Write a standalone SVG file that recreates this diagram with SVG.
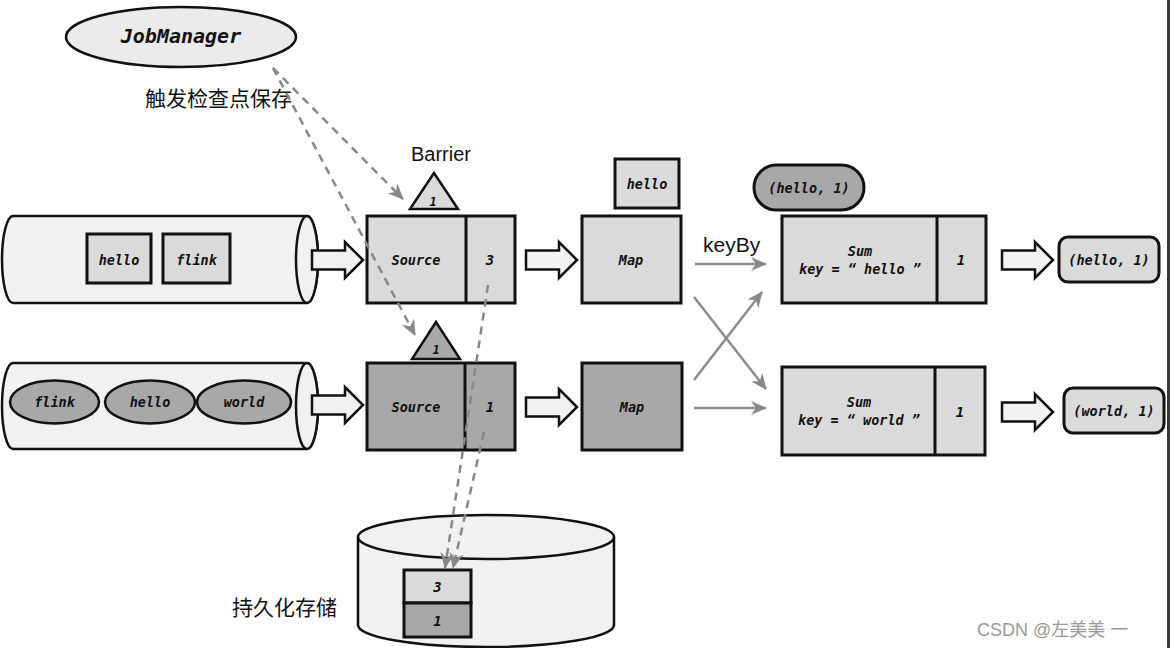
<svg xmlns="http://www.w3.org/2000/svg" width="1170" height="648" viewBox="0 0 1170 648">
<style>
  .mono{font-family:"DejaVu Sans Mono","Liberation Mono",monospace;font-weight:bold;font-style:italic;fill:#111;text-anchor:middle}
  .m13{font-size:13.5px}
  .m12{font-size:12px}
  .sans{font-family:"Liberation Sans",Arial,sans-serif;fill:#111}
  .cjk{font-family:"Liberation Sans","Noto Sans CJK SC",sans-serif;fill:#111}
  .box{stroke:#111;stroke-width:3}
  .light{fill:#dadada}
  .dark{fill:#a8a8a8}
  .pale{fill:#f1f1f1}
  .thin{stroke:#111;stroke-width:2.5}
  .dash{fill:none;stroke:#888;stroke-width:2.5;stroke-dasharray:8 6}
  .solid{fill:none;stroke:#8c8c8c;stroke-width:2.5}
</style>
<defs>
  <marker id="ah" viewBox="0 0 16 14" refX="15" refY="7" markerWidth="16" markerHeight="14" markerUnits="userSpaceOnUse" orient="auto">
    <path d="M0,0 L16,7 L0,14 L5,7 Z" fill="#888"/>
  </marker>
  <path id="blk" d="M-51,-9.5 H-18 V-18 L0,0 L-18,18 V9.5 H-51 Z" fill="#f1f1f1" stroke="#111" stroke-width="2.5" stroke-linejoin="miter"/>
</defs>

<rect x="0" y="0" width="1170" height="648" fill="#ffffff"/>
<rect x="1167" y="0" width="3" height="648" fill="#3a3a3a"/>

<g id="jobmanager">
  <ellipse cx="181" cy="37" rx="115" ry="30" fill="#ebebeb" class="thin"/>
  <text x="181" y="43" class="mono" font-size="20">JobManager</text>
</g>
<text x="145" y="106" class="cjk" font-size="21">触发检查点保存</text>

<g id="kafka-top">
  <path d="M13,216 H307 A11,43.5 0 0 1 307,303 H13 A11,43.5 0 0 1 13,216 Z" class="pale thin"/>
  <ellipse cx="307" cy="259.5" rx="11" ry="43.5" class="pale thin"/>
  <rect x="87" y="234" width="64" height="49" class="light box"/>
  <text x="119" y="265" class="mono m13">hello</text>
  <rect x="163" y="234" width="67" height="49" class="light box"/>
  <text x="196.5" y="265" class="mono m13">flink</text>
</g>

<g id="kafka-bottom">
  <path d="M13,363 H307 A11,43 0 0 1 307,449 H13 A11,43 0 0 1 13,363 Z" class="pale thin"/>
  <ellipse cx="307" cy="406" rx="11" ry="43" class="pale thin"/>
  <ellipse cx="54.5" cy="402" rx="44.5" ry="21.5" class="dark thin"/>
  <text x="54.5" y="407" class="mono m13">flink</text>
  <ellipse cx="150" cy="402" rx="45" ry="21.5" class="dark thin"/>
  <text x="150" y="407" class="mono m13">hello</text>
  <ellipse cx="244" cy="402" rx="47" ry="21.5" class="dark thin"/>
  <text x="244" y="407" class="mono m13">world</text>
</g>

<g id="barrier">
  <text x="411" y="161" class="sans" font-size="20">Barrier</text>
  <polygon points="434,173 410,209 458,209" class="light thin"/>
  <text x="433" y="206" class="mono m12">1</text>
</g>

<g id="source-top">
  <rect x="367" y="216" width="148" height="87" class="light box"/>
  <line x1="466" y1="216" x2="466" y2="303" class="box"/>
  <text x="416" y="265" class="mono m13">Source</text>
  <text x="490" y="265" class="mono" font-size="14">3</text>
</g>

<g id="barrier-bottom">
  <polygon points="436,322 412,359 460,359" class="dark thin"/>
  <text x="436" y="354" class="mono m12">1</text>
</g>

<g id="source-bottom">
  <rect x="367" y="363" width="148" height="87" class="dark box"/>
  <line x1="465" y1="363" x2="465" y2="450" class="box"/>
  <text x="416" y="412" class="mono m13">Source</text>
  <text x="490" y="412" class="mono" font-size="14">1</text>
</g>

<g id="map-top">
  <rect x="615" y="159" width="64" height="49" class="light box"/>
  <text x="647" y="189" class="mono m13">hello</text>
  <rect x="582" y="216" width="99" height="87" class="light box"/>
  <text x="631" y="265" class="mono m13">Map</text>
</g>

<g id="map-bottom">
  <rect x="582" y="363" width="100" height="87" class="dark box"/>
  <text x="632" y="412" class="mono m13">Map</text>
</g>

<g id="sum-hello">
  <rect x="754" y="165" width="110" height="45" rx="22.5" class="dark box"/>
  <text x="809" y="193" class="mono m13">(hello, 1)</text>
  <rect x="782" y="216" width="204" height="87" class="light box"/>
  <line x1="937" y1="216" x2="937" y2="303" class="box"/>
  <text x="860" y="256" class="mono m13">Sum</text>
  <text x="860" y="274" class="mono m13">key = “ hello ”</text>
  <text x="961" y="265" class="mono" font-size="14">1</text>
</g>

<g id="sum-world">
  <rect x="782" y="367" width="203" height="88" class="light box"/>
  <line x1="935" y1="367" x2="935" y2="455" class="box"/>
  <text x="859" y="407" class="mono m13">Sum</text>
  <text x="859" y="425" class="mono m13">key = “ world ”</text>
  <text x="960" y="417" class="mono" font-size="14">1</text>
</g>

<g id="out-hello">
  <rect x="1059" y="237" width="100" height="45" rx="9" class="light box"/>
  <text x="1109" y="265" class="mono m13">(hello, 1)</text>
</g>

<g id="out-world">
  <rect x="1064" y="388" width="100" height="45" rx="9" class="light box"/>
  <text x="1114" y="416" class="mono m13">(world, 1)</text>
</g>

<g id="storage">
  <path d="M358,537 V625 A128,22 0 0 0 614,625 V537" class="pale thin"/>
  <ellipse cx="486" cy="537" rx="128" ry="22" class="pale thin"/>
  <rect x="404" y="570" width="67" height="33" class="light box"/>
  <text x="437.5" y="592" class="mono" font-size="14">3</text>
  <rect x="404" y="603" width="67" height="34" class="dark box"/>
  <text x="437.5" y="626" class="mono" font-size="14">1</text>
</g>
<text x="232" y="615" class="cjk" font-size="21">持久化存储</text>

<g id="connectors">
  <use href="#blk" x="363" y="260"/>
  <use href="#blk" x="363" y="405"/>
  <use href="#blk" x="577" y="260"/>
  <use href="#blk" x="577" y="407"/>
  <use href="#blk" x="1053" y="260"/>
  <use href="#blk" x="1053" y="412"/>
  <line x1="695" y1="264" x2="766" y2="264" class="solid" marker-end="url(#ah)"/>
  <line x1="694" y1="297" x2="766" y2="389" class="solid" marker-end="url(#ah)"/>
  <line x1="694" y1="380" x2="762" y2="292" class="solid" marker-end="url(#ah)"/>
  <line x1="694" y1="408" x2="766" y2="408" class="solid" marker-end="url(#ah)"/>
  <line x1="273" y1="68" x2="403" y2="199" class="dash" marker-end="url(#ah)"/>
  <line x1="273" y1="68" x2="415" y2="335" class="dash" marker-end="url(#ah)"/>
  <line x1="488" y1="285" x2="445" y2="568" class="dash" marker-end="url(#ah)"/>
  <line x1="484" y1="432" x2="453" y2="568" class="dash" marker-end="url(#ah)"/>
</g>
<text x="703" y="252" class="sans" font-size="21">keyBy</text>

<text x="977" y="636" class="cjk" font-size="18" fill="#999" style="fill:#9a9a9a">CSDN @左美美 一</text>
</svg>
